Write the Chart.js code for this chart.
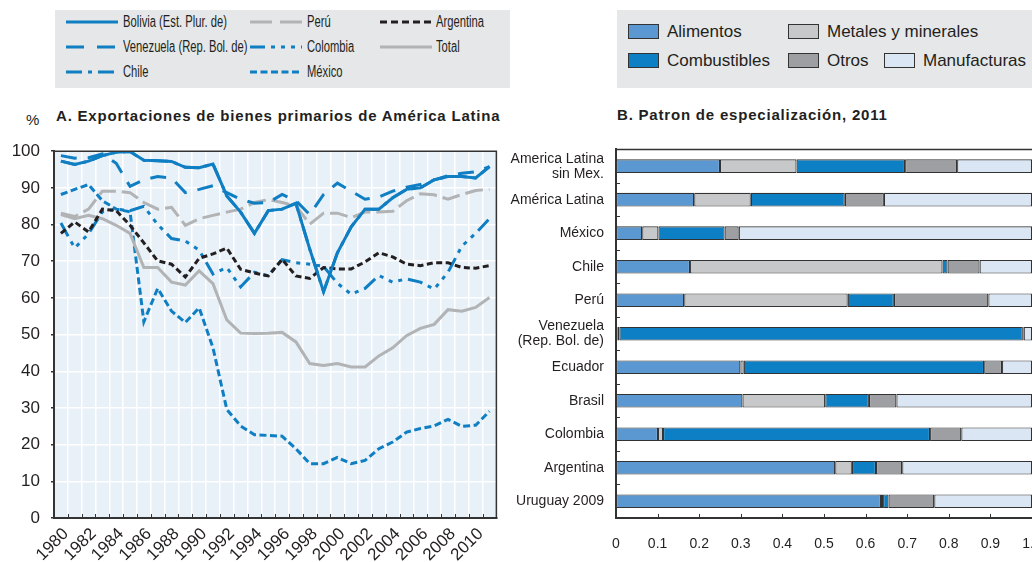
<!DOCTYPE html>
<html>
<head>
<meta charset="utf-8">
<script src="https://cdn.jsdelivr.net/npm/chart.js@4/dist/chart.umd.min.js"></script>
<style>
  body { margin: 0; width: 1032px; height: 562px; position: relative; overflow: hidden; background: #fff;
         font-family: "Liberation Sans", Arial, sans-serif; color: #231f20; }
  .box { position: absolute; background: #e6e7e8; }
  .item { position: absolute; height: 18px; line-height: 18px; white-space: nowrap; }
  .legA { font-size: 16px; transform: scaleX(0.7); transform-origin: 0 50%; }
  .legB { font-size: 17px; }
  .sw { position: absolute; width: 29px; height: 13px; border: 1.5px solid #333; }
  .title { position: absolute; font-weight: bold; font-size: 15px; letter-spacing: 0.8px; white-space: nowrap; }
  .wrap { position: absolute; }
</style>
</head>
<body>
<div class="box" style="left:55px; top:10px; width:455px; height:78px"></div>
<div id="legendA"></div>
<div class="box" style="left:617px; top:10px; width:415px; height:78px"></div>
<div id="legendB"></div>

<div class="title" style="left:26px; top:111px; font-weight:normal; letter-spacing:0">%</div>
<div class="title" style="left:56px; top:107px">A. Exportaciones de bienes primarios de América Latina</div>
<div class="title" style="left:617px; top:106px">B. Patron de especialización, 2011</div>

<div class="wrap" style="left:0; top:130px; width:510px; height:432px"><canvas id="chartA"></canvas></div>
<div class="wrap" style="left:510px; top:130px; width:522px; height:432px"><canvas id="chartB"></canvas></div>

<script>
// Panel A: share of primary goods in exports (%)
const years = [1980, 1981, 1982, 1983, 1984, 1985, 1986, 1987, 1988, 1989, 1990, 1991, 1992, 1993, 1994, 1995,
               1996, 1997, 1998, 1999, 2000, 2001, 2002, 2003, 2004, 2005, 2006, 2007, 2008, 2009, 2010, 2011];
const bolivia   = [97.3, 96.4, 97.3, 98.8, 99.7, 99.9, 97.5, 97.4, 97.2, 95.6, 95.5, 96.5, 87.8, 83.4, 77.6, 83.8,
                   84.2, 85.8, 73.3, 61.7, 72.3, 79.4, 84.2, 84.2, 87.3, 89.6, 90.0, 92.2, 93.1, 93.1, 92.7, 95.8];
const venezuela = [98.8, 98.1, 98.2, 99.3, 96.7, 90.4, 92.2, 93.1, 92.7, 88.7, 89.6, 90.6, 88.7, 86.9, 85.8, 86.0,
                   88.2, 86.5, 82.7, 88.2, 91.3, 89.1, 86.9, 87.5, 89.1, 90.2, 90.9, 92.2, 93.3, 94.0, 94.4, 95.8];
const chile     = [97.3, 96.4, 97.3, 98.8, 99.7, 99.9, 97.5, 97.4, 97.2, 95.6, 95.5, 96.5, 87.8, 83.4, 77.6, 83.8,
                   84.2, 85.8, 73.3, 61.7, 72.3, 79.4, 84.2, 84.2, 87.3, 89.6, 90.0, 92.2, 93.1, 93.1, 92.7, 95.8];
const peru      = [83.1, 82.2, 84.2, 89.1, 89.1, 88.7, 86.0, 84.2, 84.7, 79.8, 81.6, 82.5, 83.4, 84.2, 86.0, 86.8,
                   86.0, 85.1, 80.1, 83.1, 83.1, 81.9, 83.4, 83.4, 83.6, 86.5, 88.4, 88.1, 86.9, 88.2, 89.3, 89.6];
const colombia  = [80.4, 73.6, 77.5, 83.5, 84.2, 83.8, 85.0, 80.0, 76.2, 75.5, 73.0, 66.5, 68.3, 63.0, 67.0, 66.0,
                   70.4, 69.6, 69.2, 68.6, 64.0, 61.0, 62.6, 66.1, 64.3, 65.2, 64.3, 62.4, 67.0, 74.1, 77.6, 81.6];
const mexico    = [88.2, 89.6, 90.9, 86.5, 84.2, 83.5, 53.5, 62.6, 56.4, 53.3, 57.3, 46.4, 29.6, 25.1, 22.7, 22.5,
                   22.3, 18.9, 14.8, 14.8, 16.5, 14.8, 15.7, 18.9, 20.7, 23.4, 24.4, 25.1, 26.9, 25.0, 25.3, 29.1];
const argentina = [77.6, 80.7, 78.0, 84.2, 83.8, 79.8, 75.0, 70.1, 69.2, 65.7, 70.8, 72.0, 73.6, 67.8, 66.8, 66.0,
                   70.5, 66.0, 65.3, 68.3, 67.9, 67.9, 69.8, 72.3, 71.2, 69.2, 68.8, 69.6, 69.6, 68.3, 68.1, 68.8];
const total     = [82.7, 81.6, 82.5, 81.6, 79.8, 77.6, 68.3, 68.3, 64.3, 63.5, 67.4, 63.9, 54.0, 50.4, 50.3, 50.4,
                   50.6, 48.0, 42.1, 41.6, 42.1, 41.2, 41.2, 44.2, 46.4, 49.7, 51.7, 52.8, 56.8, 56.4, 57.4, 60.1];

// Panel B: export structure 2011 (shares)
const countries = [['America Latina', 'sin Mex.'], 'América Latina', 'México', 'Chile', 'Perú',
                   ['Venezuela', '(Rep. Bol. de)'], 'Ecuador', 'Brasil', 'Colombia', 'Argentina', 'Uruguay 2009'];
const alimentos    = [0.250, 0.188, 0.063, 0.178, 0.164, 0.004, 0.299, 0.304, 0.101, 0.527, 0.637];
const metales      = [0.184, 0.136, 0.039, 0.607, 0.393, 0.004, 0.008, 0.199, 0.012, 0.040, 0.005];
const combustibles = [0.261, 0.226, 0.159, 0.012, 0.111, 0.970, 0.578, 0.105, 0.642, 0.058, 0.013];
const otros        = [0.125, 0.094, 0.034, 0.077, 0.227, 0.002, 0.043, 0.066, 0.075, 0.063, 0.110];
const manufacturas = [0.180, 0.356, 0.705, 0.126, 0.105, 0.020, 0.072, 0.326, 0.170, 0.312, 0.235];

const BLUE = '#0f7ec2';
const GREY = '#b2b3b5';
const DARK = '#231f20';
const SANS = '"Liberation Sans", Arial, sans-serif';

const lineDefs = [
    { label: 'Bolivia (Est. Plur. de)', data: bolivia, color: BLUE, dash: [], row: 0, col: 0 },
    { label: 'Venezuela (Rep. Bol. de)', data: venezuela, color: BLUE, dash: [16, 11], row: 1, col: 0 },
    { label: 'Perú', data: peru, color: GREY, dash: [18, 6], row: 0, col: 1 },
    { label: 'Argentina', data: argentina, color: DARK, dash: [6, 3.5], row: 0, col: 2 },
    { label: 'Colombia', data: colombia, color: BLUE, dash: [15, 6, 4, 6, 4, 6, 4, 6], row: 1, col: 1 },
    { label: 'Total', data: total, color: GREY, dash: [], row: 1, col: 2 },
    { label: 'México', data: mexico, color: BLUE, dash: [7, 3.5], row: 2, col: 1 },
    { label: 'Chile', data: chile, color: BLUE, dash: [16, 6, 4, 6], row: 2, col: 0 },
];

// legend A
const legA = document.getElementById('legendA');
const rowY = [22, 47, 72];
const colSample = [66, 250, 380];
const colText = [123, 307, 436];
const legendDash = { 'Perú': '22 8', 'Argentina': '7 4', 'Venezuela (Rep. Bol. de)': '18 13', 'Colombia': '15 6 4 6 4 6 4 6',
                     'Chile': '16 6 4 6', 'México': '7 3.5' };
lineDefs.forEach(d => {
    const y = rowY[d.row];
    const svg = document.createElementNS('http://www.w3.org/2000/svg', 'svg');
    svg.setAttribute('width', 52);
    svg.setAttribute('height', 8);
    svg.style.position = 'absolute';
    svg.style.left = colSample[d.col] + 'px';
    svg.style.top = (y - 4) + 'px';
    const ln = document.createElementNS('http://www.w3.org/2000/svg', 'line');
    ln.setAttribute('x1', 0); ln.setAttribute('x2', 52);
    ln.setAttribute('y1', 4); ln.setAttribute('y2', 4);
    ln.setAttribute('stroke', d.color);
    ln.setAttribute('stroke-width', 3);
    if (legendDash[d.label]) ln.setAttribute('stroke-dasharray', legendDash[d.label]);
    svg.appendChild(ln);
    legA.appendChild(svg);
    const t = document.createElement('div');
    t.className = 'item legA';
    t.style.left = colText[d.col] + 'px';
    t.style.top = (y - 9) + 'px';
    t.textContent = d.label;
    legA.appendChild(t);
});

const barDefs = [
    { label: 'Alimentos', data: alimentos, color: '#5b97d0', sw: 628, tx: 667, y: 32 },
    { label: 'Metales y minerales', data: metales, color: '#c7c8ca', sw: 788, tx: 827, y: 32 },
    { label: 'Combustibles', data: combustibles, color: '#0d80c5', sw: 628, tx: 667, y: 61 },
    { label: 'Otros', data: otros, color: '#9d9fa2', sw: 788, tx: 827, y: 61 },
    { label: 'Manufacturas', data: manufacturas, color: '#dae6f4', sw: 884, tx: 923, y: 61 },
];

const legB = document.getElementById('legendB');
barDefs.forEach(d => {
    const s = document.createElement('div');
    s.className = 'sw';
    s.style.left = d.sw + 'px';
    s.style.top = (d.y - 8) + 'px';
    s.style.background = d.color;
    legB.appendChild(s);
    const t = document.createElement('div');
    t.className = 'item legB';
    t.style.left = d.tx + 'px';
    t.style.top = (d.y - 9) + 'px';
    t.textContent = d.label;
    legB.appendChild(t);
});

// plot background, frame and inner tick marks for panel A
const frameA = {
    id: 'frameA',
    beforeDraw(chart) {
        const { ctx, chartArea: a } = chart;
        ctx.save();
        ctx.fillStyle = '#e8f0f8';
        ctx.fillRect(a.left, a.top, a.right - a.left, a.bottom - a.top);
        ctx.restore();
    },
    afterDraw(chart) {
        const { ctx, chartArea: a, scales: { x } } = chart;
        ctx.save();
        ctx.strokeStyle = '#333';
        ctx.lineWidth = 1.5;
        ctx.beginPath();
        ctx.moveTo(a.left, a.top);
        ctx.lineTo(a.right, a.top);
        ctx.lineTo(a.right, a.bottom);
        ctx.stroke();
        ctx.lineWidth = 1;
        for (let i = 1; i < years.length; i++) {
            const px = Math.round((x.getPixelForValue(i - 1) + x.getPixelForValue(i)) / 2) + 0.5;
            ctx.beginPath();
            ctx.moveTo(px, a.bottom);
            ctx.lineTo(px, a.bottom - 4);
            ctx.stroke();
        }
        ctx.restore();
    }
};

const frameB = {
    id: 'frameB',
    afterDraw(chart) {
        const { ctx, chartArea: a, scales: { x, y } } = chart;
        ctx.save();
        ctx.strokeStyle = '#333';
        ctx.lineWidth = 1.5;
        ctx.beginPath();
        ctx.moveTo(a.left, a.top);
        ctx.lineTo(a.right, a.top);
        ctx.stroke();
        ctx.lineWidth = 1;
        for (let i = 1; i < countries.length; i++) {
            const py = Math.round((y.getPixelForValue(i - 1) + y.getPixelForValue(i)) / 2) + 0.5;
            ctx.beginPath();
            ctx.moveTo(a.left, py);
            ctx.lineTo(a.left + 4, py);
            ctx.stroke();
        }
        x.ticks.forEach(t => {
            const px = Math.round(x.getPixelForValue(t.value)) + 0.5;
            ctx.beginPath();
            ctx.moveTo(px, a.bottom);
            ctx.lineTo(px, a.bottom - 4);
            ctx.stroke();
        });
        ctx.restore();
    }
};

new Chart(document.getElementById('chartA'), {
    type: 'line',
    data: {
        labels: years,
        datasets: lineDefs.map(d => ({
            label: d.label,
            data: d.data,
            borderColor: d.color,
            borderDash: d.dash,
            borderWidth: 3,
            pointRadius: 0,
            fill: false,
            tension: 0
        }))
    },
    options: {
        responsive: true,
        maintainAspectRatio: false,
        animation: false,
        layout: { padding: { top: 12, right: 7, left: 0, bottom: 0 } },
        plugins: { legend: { display: false }, tooltip: { enabled: false } },
        scales: {
            x: {
                offset: true,
                grid: { offset: true, color: '#ffffff', lineWidth: 1.5, drawTicks: false },
                border: { color: '#333', width: 2 },
                ticks: {
                    autoSkip: false,
                    minRotation: 45,
                    maxRotation: 45,
                    labelOffset: 5,
                    padding: 6,
                    color: DARK,
                    font: { family: SANS, size: 17 },
                    callback: (v, i) => (years[i] % 2 === 0 && years[i] <= 2010) ? String(years[i]) : ''
                },
                afterFit: s => { s.height = 44; }
            },
            y: {
                min: 0,
                max: 100,
                ticks: { stepSize: 10, padding: 11, color: DARK, font: { family: SANS, size: 17 } },
                grid: { color: '#ffffff', lineWidth: 1.5, tickLength: 3, tickColor: '#333' },
                border: { color: '#333', width: 2 },
                afterFit: s => { s.width = 54; }
            }
        }
    },
    plugins: [frameA]
});

new Chart(document.getElementById('chartB'), {
    type: 'bar',
    data: {
        labels: countries,
        datasets: barDefs.map(d => ({
            label: d.label,
            data: d.data,
            backgroundColor: d.color,
            borderColor: '#333',
            borderWidth: 1.2,
            borderSkipped: false,
            barPercentage: 0.41,
            categoryPercentage: 1
        }))
    },
    options: {
        indexAxis: 'y',
        responsive: true,
        maintainAspectRatio: false,
        animation: false,
        layout: { padding: { top: 13, right: 0, left: 0, bottom: 0 } },
        plugins: { legend: { display: false }, tooltip: { enabled: false } },
        scales: {
            x: {
                stacked: true,
                min: 0,
                max: 1,
                ticks: { stepSize: 0.1, padding: 18, color: DARK, font: { family: SANS, size: 14 } },
                grid: { display: false, drawTicks: false },
                border: { color: '#333', width: 2 },
                afterFit: s => { s.height = 44; s.paddingLeft = 0; s.paddingRight = 0; }
            },
            y: {
                stacked: true,
                ticks: { autoSkip: false, padding: 12, color: DARK, font: { family: SANS, size: 14, lineHeight: 1.07 } },
                grid: { display: false, drawTicks: false },
                border: { color: '#333', width: 2 },
                afterFit: s => { s.width = 106; }
            }
        }
    },
    plugins: [frameB]
});
</script>
</body>
</html>
